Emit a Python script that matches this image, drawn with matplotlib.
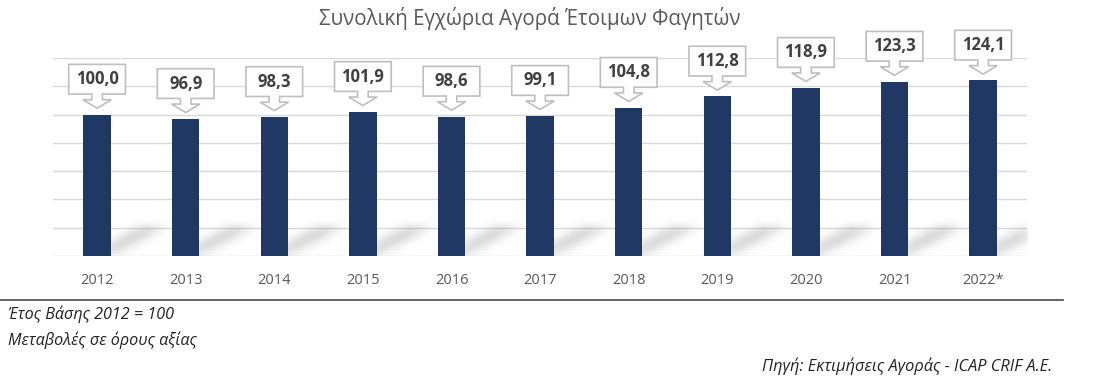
import matplotlib
matplotlib.use("Agg")
import matplotlib.pyplot as plt
from matplotlib.patches import Polygon
from matplotlib.lines import Line2D
import numpy as np

plt.rcParams['font.family'] = ['Open Sans', 'DejaVu Sans']

years = ["2012", "2013", "2014", "2015", "2016", "2017", "2018", "2019", "2020", "2021", "2022*"]
values = [100.0, 96.9, 98.3, 101.9, 98.6, 99.1, 104.8, 112.8, 118.9, 123.3, 124.1]
labels = ["100,0", "96,9", "98,3", "101,9", "98,6", "99,1", "104,8", "112,8", "118,9", "123,3", "124,1"]

title = "Συνολική Εγχώρια Αγορά Έτοιμων Φαγητών"
note1 = "Έτος Βάσης 2012 = 100"
note2 = "Μεταβολές σε όρους αξίας"
source = "Πηγή: Εκτιμήσεις Αγοράς - ICAP CRIF A.E."

bar_color = "#1f3864"
grid_color = "#d9d9d9"

fig = plt.figure(figsize=(11, 3.9), dpi=100)
ax = fig.add_axes([0.048, 0.3436, 0.886, 0.5077])
x = np.arange(len(years))
bw = 0.31
xlim = (-0.5, len(years) - 0.5)
ylim = (0, 140)

ax.set_xlim(*xlim)
ax.set_ylim(*ylim)
ax.set_yticks(np.arange(0, 141, 20))
ax.yaxis.grid(True, color=grid_color, lw=1.0, zorder=0)
ax.set_axisbelow(True)
for s in ax.spines.values():
    s.set_visible(False)
ax.tick_params(axis='y', left=False, labelleft=False)
ax.tick_params(axis='x', bottom=False, pad=9, labelsize=10.5, labelcolor="#595959")
ax.set_xticks(x)
ax.set_xticklabels(years)

# soft blurred shadows behind bars (raster)
W, H = 980, 200
xs = np.linspace(xlim[0], xlim[1], W)
ys = np.linspace(ylim[0], ylim[1], H)
XX, YY = np.meshgrid(xs, ys)
field = np.zeros((H, W))
dx, dy = 0.62, 21
for xi in x:
    x0, x1 = xi - bw / 2, xi + bw / 2
    t = YY / dy
    sx = XX - dx * t
    m = (t >= 0) & (t <= 1) & (sx >= x0 + 0.04) & (sx <= x1)
    inten = (0.55 + 0.45 * t) * (1 - 0.35 * t ** 3)
    field = np.maximum(field, np.where(m, inten, 0))


def blur1d(a, sigma, axis):
    r = int(3 * sigma)
    k = np.exp(-0.5 * (np.arange(-r, r + 1) / sigma) ** 2)
    k /= k.sum()
    return np.apply_along_axis(lambda v: np.convolve(v, k, mode="same"), axis, a)


field = blur1d(field, 6.5, 1)
field = blur1d(field, 4.5, 0)
rgba = np.zeros((H, W, 4))
rgba[..., :3] = 0.45
rgba[..., 3] = np.clip(field * 0.45, 0, 1)
ax.imshow(rgba, extent=(xlim[0], xlim[1], ylim[0], ylim[1]), origin="lower",
          aspect="auto", zorder=1, interpolation="bilinear")
ax.set_xlim(*xlim)
ax.set_ylim(*ylim)

ax.bar(x, values, width=bw, color=bar_color, zorder=3)

# callouts
bw_box = 0.64
bh = 21
for xi, v, lab in zip(x, values, labels):
    tip = v + 4.5
    bb = v + 14.5
    sw = 0.06
    hw = 0.16
    neck = v + 10.5
    pts = [
        (xi - bw_box / 2, bb), (xi - bw_box / 2, bb + bh), (xi + bw_box / 2, bb + bh),
        (xi + bw_box / 2, bb), (xi + sw, bb), (xi + sw, neck), (xi + hw, neck),
        (xi, tip), (xi - hw, neck), (xi - sw, neck), (xi - sw, bb)]
    ax.add_patch(Polygon(pts, closed=True, facecolor="white", edgecolor="#bfbfbf",
                         lw=1.2, zorder=4, clip_on=False))
    ax.text(xi, bb + bh / 2, lab, ha="center", va="center", fontsize=12,
            fontweight="bold", color="#404040", zorder=5, clip_on=False)

fig.text(0.482, 0.952, title, ha="center", va="center", fontsize=14.8, color="#595959")

fig.add_artist(Line2D([0, 0.966], [0.231, 0.231], color="#555555", lw=1.3))
fig.text(0.007, 0.195, note1, ha="left", va="center", fontsize=11.6, style="italic", color="#222222")
fig.text(0.007, 0.128, note2, ha="left", va="center", fontsize=11.6, style="italic", color="#222222")
fig.text(0.957, 0.062, source, ha="right", va="center", fontsize=11.8, style="italic", color="#222222")

fig.savefig("out.png", dpi=100)
